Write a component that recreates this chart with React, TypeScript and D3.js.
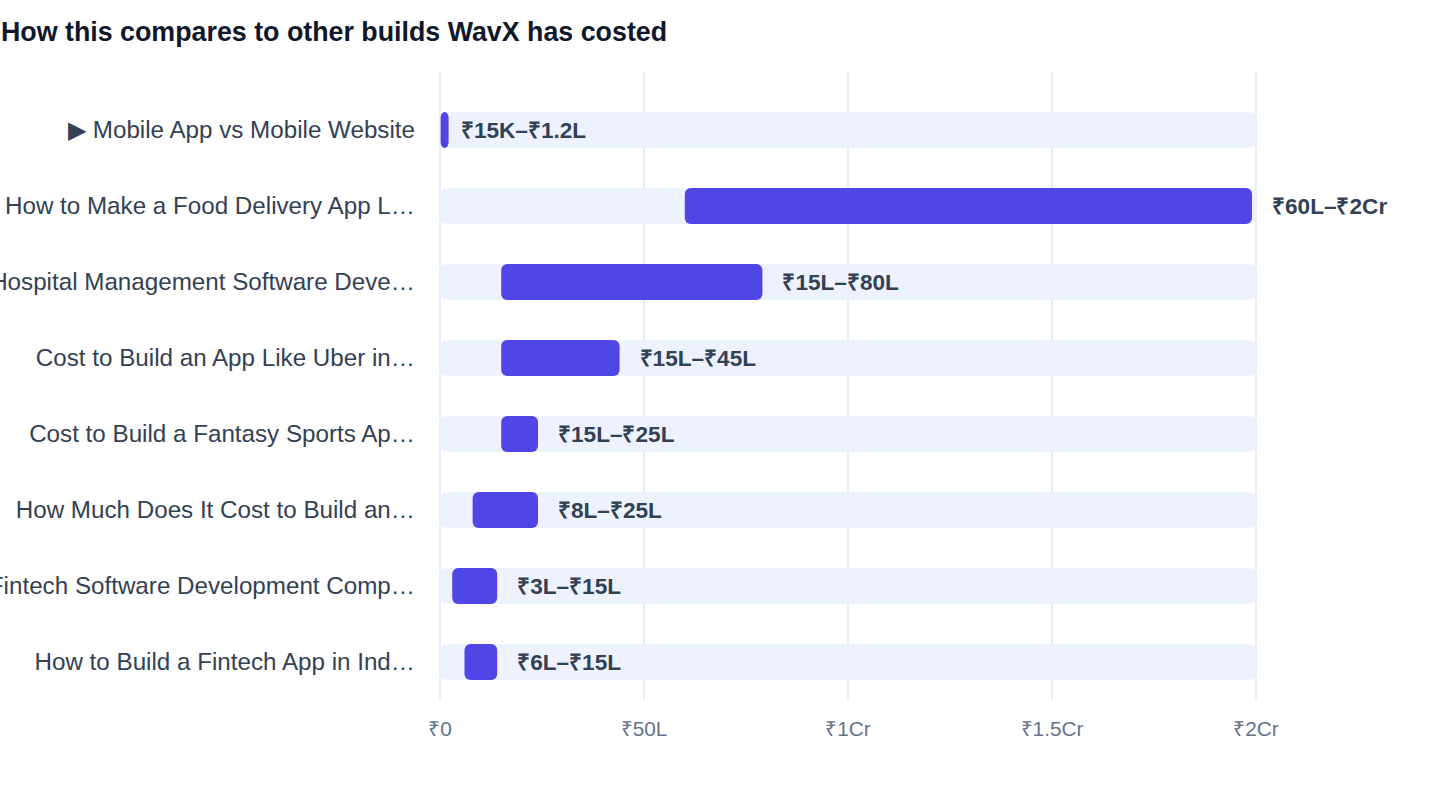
import React from "react";
import * as d3 from "d3";

const categories = [
  "▶ Mobile App vs Mobile Website",
  "How to Make a Food Delivery App L…",
  "Hospital Management Software Deve…",
  "Cost to Build an App Like Uber in…",
  "Cost to Build a Fantasy Sports Ap…",
  "How Much Does It Cost to Build an…",
  "Fintech Software Development Comp…",
  "How to Build a Fintech App in Ind…",
];
// values in lakh rupees
const lowValues = [0.15, 60, 15, 15, 15, 8, 3, 6];
const highValues = [1.2, 200, 80, 45, 25, 25, 15, 15];
const rangeLabels = [
  "₹15K–₹1.2L",
  "₹60L–₹2Cr",
  "₹15L–₹80L",
  "₹15L–₹45L",
  "₹15L–₹25L",
  "₹8L–₹25L",
  "₹3L–₹15L",
  "₹6L–₹15L",
];
const tickValues = [0, 50, 100, 150, 200];
const tickLabels = ["₹0", "₹50L", "₹1Cr", "₹1.5Cr", "₹2Cr"];

const W = 1440;
const H = 788;
const font = "'Liberation Sans', Arial, Helvetica, sans-serif";

const App = () => {
  const x = d3.scaleLinear().domain([0, 200]).range([440, 1256]);
  const y = d3
    .scaleBand<number>()
    .domain(d3.range(categories.length))
    .range([92, 700])
    .paddingInner(40 / 76)
    .paddingOuter(20 / 76);
  const bw = y.bandwidth();

  return (
    <svg
      width={W}
      height={H}
      style={{ position: "absolute", left: 0, top: 0, fontFamily: font }}
    >
      <rect width={W} height={H} fill="#fff" />
      <text x={1} y={41} fontSize={26.8} fontWeight={700} fill="#0f172a">
        How this compares to other builds WavX has costed
      </text>

      {tickValues.map((t, i) => (
        <g key={t}>
          <line
            x1={x(t)}
            x2={x(t)}
            y1={72}
            y2={700}
            stroke="#e2e8f0"
            strokeWidth={1.5}
          />
          <text
            x={x(t)}
            y={736}
            textAnchor="middle"
            fontSize={20.8}
            fill="#64748b"
          >
            {tickLabels[i]}
          </text>
        </g>
      ))}

      {categories.map((c, i) => {
        const y0 = y(i)!;
        const cy = y0 + bw / 2;
        const x0 = x(lowValues[i]);
        const w = Math.max(8, x(highValues[i]) - x0 - 4);
        return (
          <g key={c}>
            <rect
              x={x(0)}
              y={y0}
              width={x(200) - x(0)}
              height={bw}
              rx={7}
              fill="#eef2ff"
            />
            <rect x={x0} y={y0} width={w} height={bw} rx={6} fill="#4f46e5" />
            <text
              x={415}
              y={cy}
              dy="0.35em"
              textAnchor="end"
              fontSize={24.2}
              fill="#334155"
            >
              {c}
            </text>
            <text
              x={x(highValues[i]) + 16}
              y={cy}
              dy="0.35em"
              fontSize={22.6}
              fontWeight={700}
              fill="#334155"
            >
              {rangeLabels[i]}
            </text>
          </g>
        );
      })}
    </svg>
  );
};

export default App;
